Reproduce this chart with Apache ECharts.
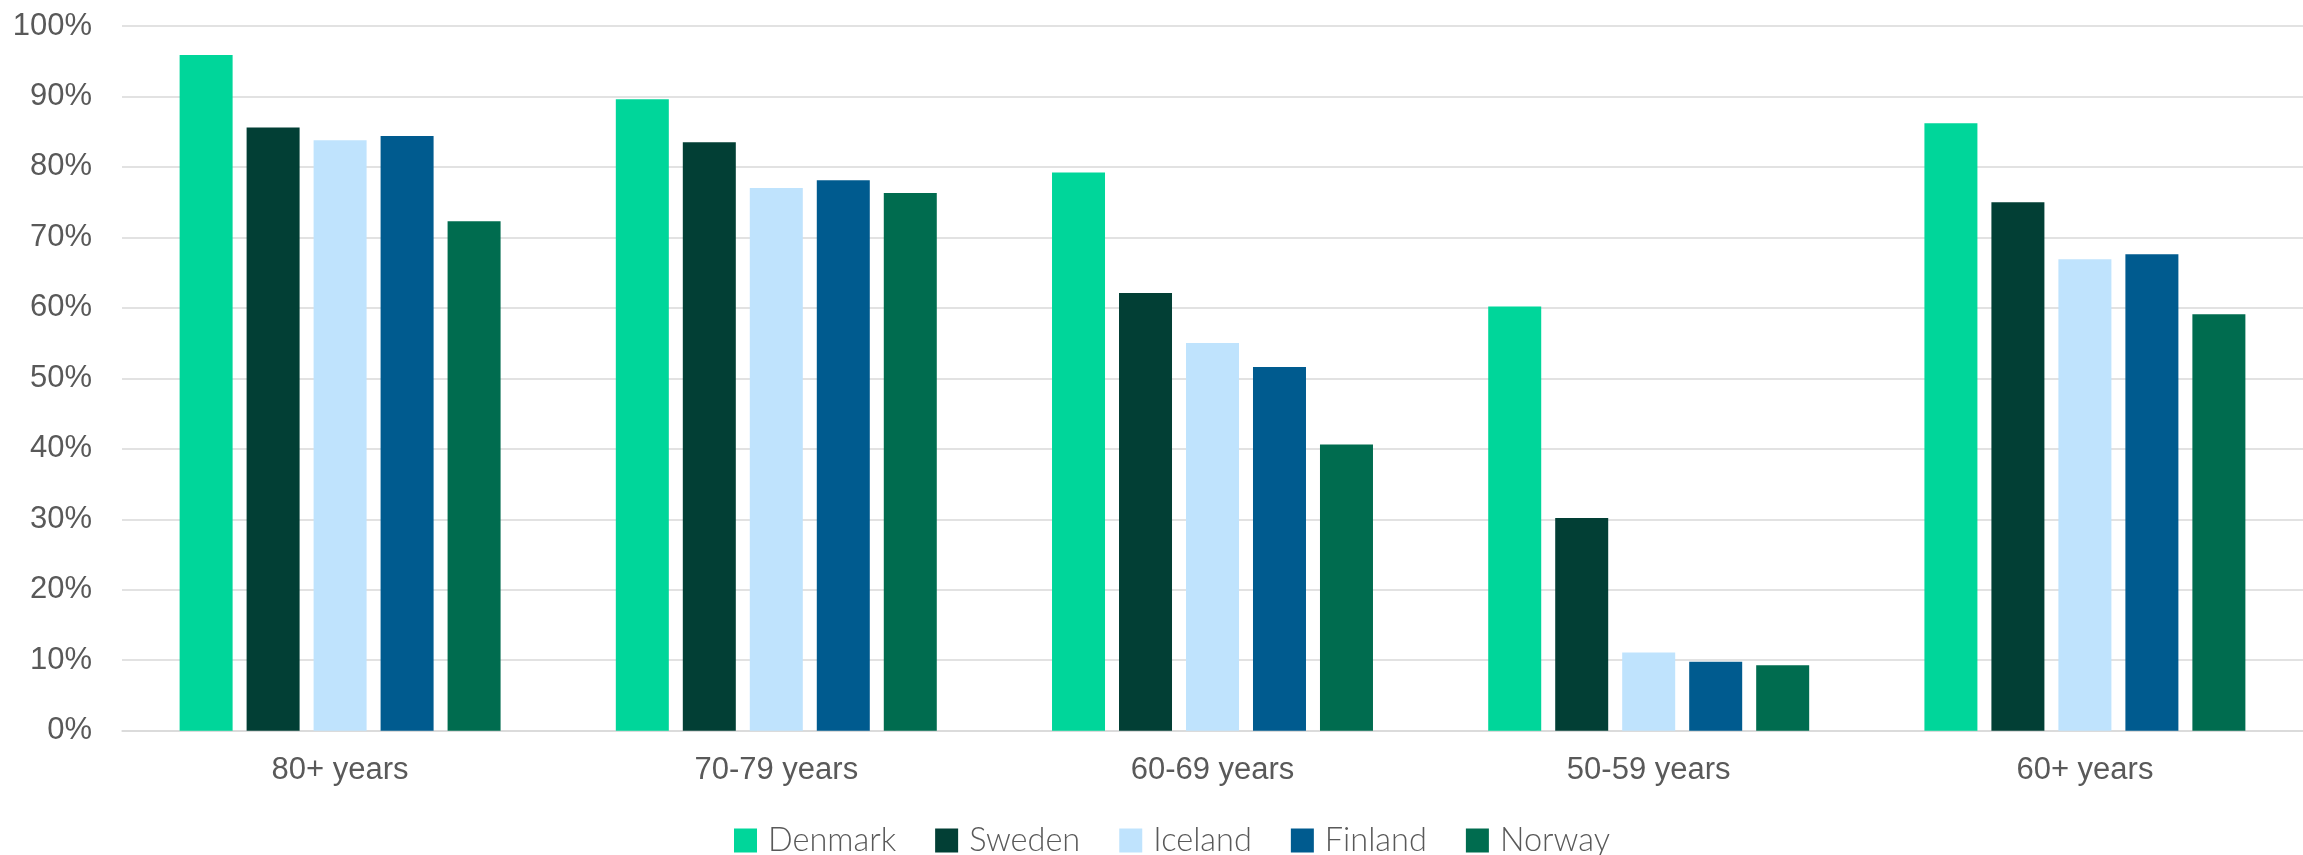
<!DOCTYPE html>
<html>
<head>
<meta charset="utf-8">
<script src="https://cdn.jsdelivr.net/npm/echarts@6/dist/echarts.min.js"></script>
<style>
  html, body { margin: 0; padding: 0; background: #ffffff; }
  #chart { width: 2303px; height: 855px; }
</style>
</head>
<body>
<div id="chart"></div>
<script>
const categories = ['80+ years', '70-79 years', '60-69 years', '50-59 years', '60+ years'];
const countries = ['Denmark', 'Sweden', 'Iceland', 'Finland', 'Norway'];
const colors = ['#00D69A', '#023F35', '#BFE3FD', '#005B8F', '#006C4F'];
const denmark = [95.9, 89.6, 79.2, 60.2, 86.2];
const sweden  = [85.6, 83.5, 62.1, 30.2, 75.0];
const iceland = [83.8, 77.0, 55.0, 11.1, 66.9];
const finland = [84.4, 78.1, 51.6, 9.8, 67.6];
const norway  = [72.3, 76.3, 40.6, 9.3, 59.1];
const seriesValues = [denmark, sweden, iceland, finland, norway];

const chart = echarts.init(document.getElementById('chart'), null, { renderer: 'canvas' });
chart.setOption({
  animation: false,
  backgroundColor: '#ffffff',
  grid: { left: 122, right: -7, top: 26, bottom: 124.3, containLabel: false },
  legend: {
    data: countries,
    left: 734,
    top: 824,
    padding: 0,
    itemWidth: 23,
    itemHeight: 24,
    itemGap: 39,
    icon: 'rect',
    textStyle: { fontFamily: 'Lato', fontWeight: 300, fontSize: 32.5, color: '#595959', padding: [0, 0, 0, 6] }
  },
  xAxis: {
    type: 'category',
    data: categories,
    axisLine: { show: true, lineStyle: { color: '#d9d9d9', width: 1.5 } },
    axisTick: { show: false },
    axisLabel: { fontFamily: 'Liberation Sans', fontSize: 31, color: '#595959', margin: 24 }
  },
  yAxis: {
    type: 'value',
    min: 0,
    max: 100,
    interval: 10,
    axisLine: { show: false },
    axisTick: { show: false },
    splitLine: { lineStyle: { color: '#d9d9d9', width: 1.5 } },
    axisLabel: { fontFamily: 'Liberation Sans', fontSize: 31, color: '#595959', margin: 30, formatter: '{value}%' }
  },
  series: countries.map((name, i) => ({
    name: name,
    type: 'bar',
    data: seriesValues[i],
    barWidth: 53,
    barGap: '26.4%',
    itemStyle: { color: colors[i] }
  }))
});
</script>
</body>
</html>
